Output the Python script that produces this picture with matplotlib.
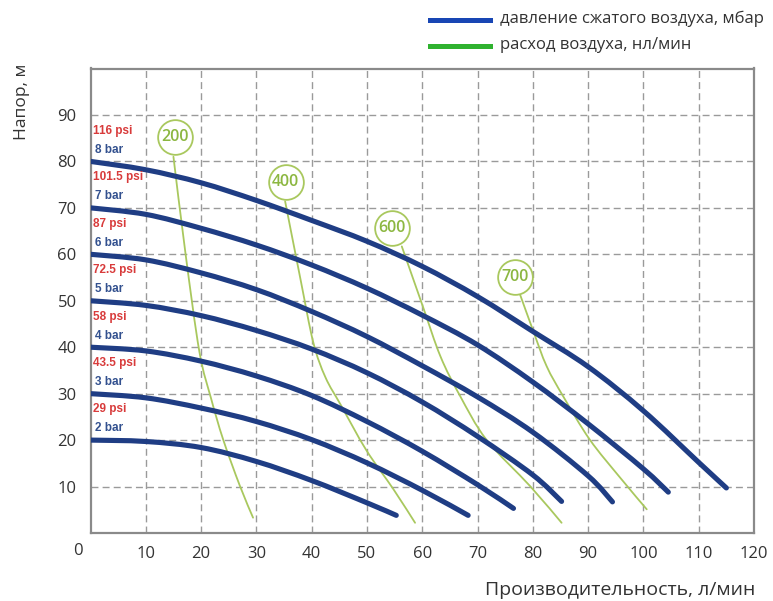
import matplotlib
matplotlib.use("Agg")
import matplotlib.pyplot as plt
from matplotlib.lines import Line2D
from matplotlib.path import Path
from matplotlib.patches import PathPatch
import numpy as np

# ---- data ----
bar_levels = [2, 3, 4, 5, 6, 7, 8]
psi_labels = ["29 psi", "43.5 psi", "58 psi", "72.5 psi", "87 psi", "101.5 psi", "116 psi"]
bar_labels = ["2 bar", "3 bar", "4 bar", "5 bar", "6 bar", "7 bar", "8 bar"]

x_2bar = [0, 10, 20, 30, 40, 50, 55.3]
y_2bar = [20, 19.7, 18.4, 15.4, 11.3, 6.5, 3.8]
x_3bar = [0, 10, 20, 30, 40, 50, 60, 68.3]
y_3bar = [30, 29.1, 26.9, 24.0, 20.1, 15.1, 9.2, 3.8]
x_4bar = [0, 10, 20, 30, 40, 50, 60, 70, 76.5]
y_4bar = [40, 39.2, 37.0, 33.8, 29.6, 24.0, 17.6, 10.4, 5.3]
x_5bar = [0, 10, 20, 30, 40, 50, 60, 70, 80, 85.2]
y_5bar = [50, 49.0, 46.8, 43.6, 39.6, 34.5, 28.2, 20.8, 12.5, 6.8]
x_6bar = [0, 10, 20, 30, 40, 50, 60, 70, 80, 90, 94.4]
y_6bar = [60, 58.8, 56.0, 52.4, 47.7, 42.3, 36.0, 29.3, 21.7, 12.3, 6.7]
x_7bar = [0, 10, 20, 30, 40, 50, 60, 70, 80, 90, 100, 104.5]
y_7bar = [70, 68.6, 65.6, 62.0, 57.7, 52.7, 46.9, 40.5, 32.5, 23.5, 13.8, 8.8]
x_8bar = [0, 10, 20, 30, 40, 50, 60, 70, 80, 90, 100, 110, 115]
y_8bar = [80, 78.2, 75.4, 71.6, 67.3, 62.8, 57.4, 50.9, 43.4, 35.8, 26.3, 15.2, 9.7]

air_labels = ["200", "400", "600", "700"]
air_circle_x = [15.3, 35.3, 54.6, 76.8]
air_circle_y = [85.3, 75.5, 65.6, 55.2]
x_200 = [15.0, 17.2, 19.7, 21.8, 24.0, 27.0, 29.4]
y_200 = [81.0, 60.0, 39.0, 29.0, 20.1, 10.2, 3.3]
x_400 = [35.2, 38.0, 40.3, 42.5, 45.3, 49.9, 54.8, 58.7]
y_400 = [71.4, 54.5, 41.0, 33.5, 27.5, 17.8, 9.4, 2.2]
x_600 = [56.3, 60.1, 63.3, 66.8, 71.6, 79.5, 85.2]
y_600 = [61.7, 48.8, 38.0, 29.6, 20.1, 10.1, 2.2]
x_700 = [77.7, 80.1, 82.5, 85.5, 90.3, 95.8, 100.6]
y_700 = [51.3, 43.4, 35.9, 29.4, 20.1, 11.9, 5.1]

x_ticks = [10, 20, 30, 40, 50, 60, 70, 80, 90, 100, 110, 120]
y_ticks = [10, 20, 30, 40, 50, 60, 70, 80, 90]

# ---- style ----
BLUE = "#1f3d84"
GREEN = "#a9c85e"
GREEN_TXT = "#8cb741"
RED = "#d83b3b"
BARBLUE = "#33518f"
TXT = "#333333"


def smooth_path(xs, ys):
    """Catmull-Rom through the read points, expressed as cubic Bezier segments."""
    p = np.column_stack([xs, ys]).astype(float)
    verts = [p[0]]
    codes = [Path.MOVETO]
    n = len(p)
    for i in range(n - 1):
        p0 = p[i - 1] if i > 0 else p[i]
        p1, p2 = p[i], p[i + 1]
        p3 = p[i + 2] if i + 2 < n else p[i + 1]
        c1 = p1 + (p2 - p0) / 6.0
        c2 = p2 - (p3 - p1) / 6.0
        verts += [c1, c2, p2]
        codes += [Path.CURVE4] * 3
    return Path(verts, codes)


W, H = 773, 601
fig = plt.figure(figsize=(W / 100, H / 100), dpi=100)
L, R, T, B = 90.5, 754, 68.5, 533
ax = fig.add_axes([L / W, 1 - B / H, (R - L) / W, (B - T) / H])
ax.set_xlim(0, 120)
ax.set_ylim(0, 100)

ax.set_xticks(x_ticks)
ax.set_yticks(y_ticks)
ax.set_xticklabels([str(v) for v in x_ticks], fontsize=12, color=TXT, family="Open Sans")
ax.set_yticklabels([str(v) for v in y_ticks], fontsize=12, color=TXT, family="Open Sans")
ax.tick_params(axis="both", length=0)
ax.tick_params(axis="x", pad=9)
ax.tick_params(axis="y", pad=10)
ax.grid(True, color="#9a9a9a", linestyle=(0, (5, 3)), linewidth=1.0)
ax.set_axisbelow(True)
for s in ax.spines.values():
    s.set_color("#8a8a8a")
    s.set_linewidth(1.6)

# air consumption lines
air_x = [x_200, x_400, x_600, x_700]
air_y = [y_200, y_400, y_600, y_700]
for xs, ys in zip(air_x, air_y):
    ax.add_patch(PathPatch(smooth_path(xs, ys), facecolor="none", edgecolor=GREEN,
                           linewidth=1.3, zorder=3, capstyle="round"))

# pressure curves
curves_x = [x_2bar, x_3bar, x_4bar, x_5bar, x_6bar, x_7bar, x_8bar]
curves_y = [y_2bar, y_3bar, y_4bar, y_5bar, y_6bar, y_7bar, y_8bar]
for xs, ys in zip(curves_x, curves_y):
    ax.add_patch(PathPatch(smooth_path(xs, ys), facecolor="none", edgecolor=BLUE,
                           linewidth=3.7, zorder=4, capstyle="round", joinstyle="round"))

# circles with air labels
for lab, cx, cy in zip(air_labels, air_circle_x, air_circle_y):
    ax.plot([cx], [cy], marker="o", markersize=25, markerfacecolor="white",
            markeredgecolor=GREEN, markeredgewidth=1.3, zorder=5)
    ax.text(cx, cy, lab, ha="center", va="center", fontsize=11.5, color=GREEN_TXT,
            family="Open Sans", fontweight="semibold", zorder=6)

# pressure labels
for lvl, pl, bl in zip(bar_levels, psi_labels, bar_labels):
    ax.text(0.4, lvl * 10 + 6.6, pl, ha="left", va="center", fontsize=8.5,
            color=RED, family="Liberation Sans", fontweight="bold", zorder=6)
    ax.text(0.9, lvl * 10 + 2.5, bl, ha="left", va="center", fontsize=8.5,
            color=BARBLUE, family="Liberation Sans", fontweight="bold", zorder=6)

# corner zero
fig.text(78 / W, 1 - 551 / H, "0", ha="center", va="center", fontsize=12,
         color=TXT, family="Open Sans")

# axis titles
fig.text(22 / W, 1 - 102 / H, "Напор, м", rotation=90, ha="center", va="center",
         fontsize=12.5, color=TXT, family="Open Sans")
fig.text(755 / W, 1 - 590 / H, "Производительность, л/мин", ha="right", va="center",
         fontsize=14, color=TXT, family="Open Sans")

# legend
fig.add_artist(Line2D([430 / W, 490 / W], [1 - 20 / H, 1 - 20 / H], color="#1846b4",
                      linewidth=3.6, transform=fig.transFigure))
fig.add_artist(Line2D([430 / W, 490 / W], [1 - 46 / H, 1 - 46 / H], color="#2fb22f",
                      linewidth=3.6, transform=fig.transFigure))
fig.text(500 / W, 1 - 19 / H, "давление сжатого воздуха, мбар", ha="left", va="center",
         fontsize=12, color=TXT, family="Open Sans")
fig.text(500 / W, 1 - 45 / H, "расход воздуха, нл/мин", ha="left", va="center",
         fontsize=12, color=TXT, family="Open Sans")

fig.savefig("out.png", dpi=100, facecolor="white")
